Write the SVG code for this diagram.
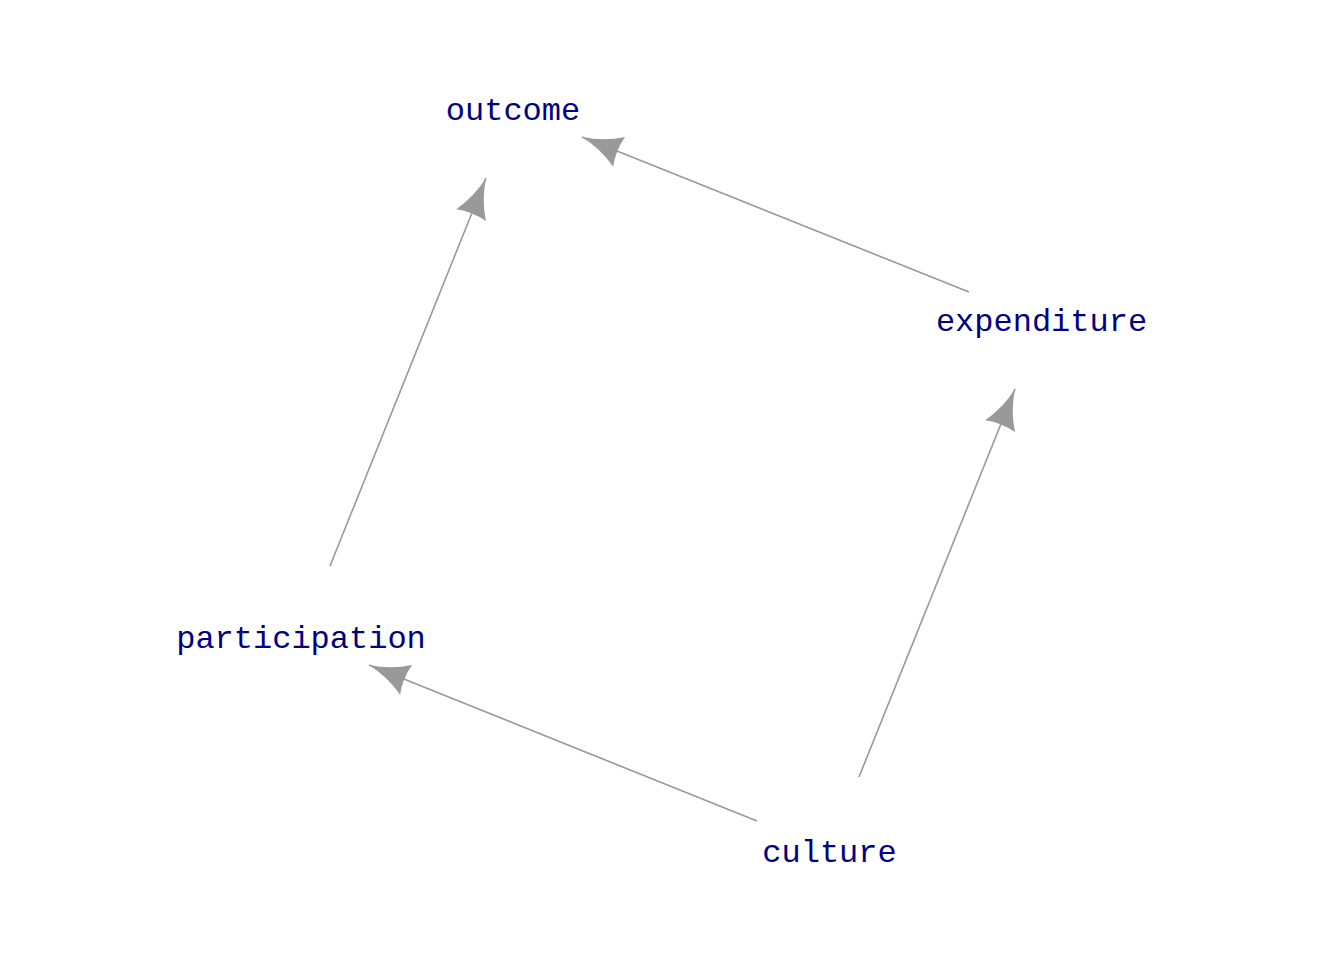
<svg xmlns="http://www.w3.org/2000/svg" width="1344" height="960" viewBox="0 0 1344 960">
<style>
.lbl{font-family:"Liberation Mono","Courier New",monospace;font-size:32px;fill:#000080;text-anchor:middle}
.edge{stroke:#999999;stroke-width:1.6;fill:none;marker-end:url(#ah)}
</style>
<defs>
<marker id="ah" markerUnits="userSpaceOnUse" markerWidth="60" markerHeight="60" viewBox="-50 -25 60 50" refX="0" refY="0" orient="auto" overflow="visible">
<path d="M0,0 Q-22,-4 -40,-16 Q-36,0 -40,16 Q-22,4 0,0 Z" fill="#999999"/>
</marker>
</defs>
<rect width="1344" height="960" fill="#ffffff"/>
<g id="connectors">
<line class="edge" x1="969" y1="292" x2="582" y2="137"/>
<line class="edge" x1="330" y1="566" x2="486" y2="178"/>
<line class="edge" x1="859" y1="777" x2="1015" y2="389"/>
<line class="edge" x1="757" y1="821" x2="369" y2="665"/>
</g>
<g id="outcome"><text class="lbl" x="513" y="120">outcome</text></g>
<g id="expenditure"><text class="lbl" x="1041.5" y="331">expenditure</text></g>
<g id="participation"><text class="lbl" x="301" y="648">participation</text></g>
<g id="culture"><text class="lbl" x="829.5" y="862">culture</text></g>
</svg>
